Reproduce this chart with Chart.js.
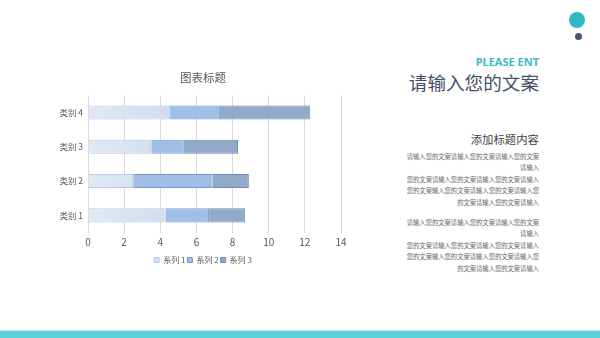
<!DOCTYPE html>
<html>
<head>
<meta charset="utf-8">
<script src="https://cdn.jsdelivr.net/npm/chart.js@4/dist/chart.umd.min.js"></script>
<style>
    body { margin: 0; width: 600px; height: 338px; overflow: hidden; background: #fff; font-family: "Noto Sans CJK SC", "Noto Sans", sans-serif; position: relative; }
    .abs { position: absolute; white-space: nowrap; }
    #chartBox { position: absolute; left: 40px; top: 60px; width: 320px; height: 214px; }
    .para { position: absolute; right: 61px; text-align: right; font-size: 6.3px; line-height: 11.4px; color: #666; }
</style>
</head>
<body>
<!-- decorative dots -->
<div class="abs" style="left:569px;top:12px;width:16px;height:16px;border-radius:50%;background:#2fb9c5;"></div>
<div class="abs" style="left:574.5px;top:32.5px;width:7px;height:7px;border-radius:50%;background:#4a5670;"></div>

<!-- headings -->
<div class="abs" style="right:61px;top:55px;line-height:14px;font-size:11px;font-weight:bold;color:#3bbcc7;font-family:'Noto Sans','Open Sans',sans-serif;">PLEASE ENT</div>
<div class="abs" style="right:61px;top:70px;line-height:24px;font-size:18.6px;color:#44506a;">请输入您的文案</div>
<div class="abs" style="right:61px;top:131px;line-height:16px;font-size:11.4px;color:#404040;">添加标题内容</div>

<div class="para" style="top:151px;">
    请输入您的文案请输入您的文案请输入您的文案<br>
    请输入<br>
    您的文案请输入您的文案请输入您的文案请输入<br>
    您的文案输入您的文案请输入您的文案请输入您<br>
    的文案请输入您的文案请输入
</div>
<div class="para" style="top:217px;">
    请输入您的文案请输入您的文案请输入您的文案<br>
    请输入<br>
    您的文案请输入您的文案请输入您的文案请输入<br>
    您的文案输入您的文案请输入您的文案请输入您<br>
    的文案请输入您的文案请输入
</div>

<!-- bottom band -->
<div class="abs" style="left:0;top:330px;width:600px;height:1px;background:#bfeff2;"></div>
<div class="abs" style="left:0;top:331px;width:600px;height:7px;background:#5bd3dc;"></div>

<div id="chartBox"><canvas id="barChart"></canvas></div>

<script>
/* Chart data */
var categories = ['类别 1', '类别 2', '类别 3', '类别 4'];
var seriesNames = ['系列 1', '系列 2', '系列 3'];
var series1 = [4.3, 2.5, 3.5, 4.5];
var series2 = [2.4, 4.4, 1.8, 2.8];
var series3 = [2, 2, 3, 5];
var xTicks = [0, 2, 4, 6, 8, 10, 12, 14];

/* Colors */
var text_color = '#595959';
var grid_color = '#d9d9d9';

var chart;

/* Title and legend are centred a bit right of the canvas centre */
var shiftBoxes = {
    id: 'shiftBoxes',
    afterLayout: function(c) {
        if (c.titleBlock) c.titleBlock.left = 25;
        if (c.legend) c.legend.left = 25;
    }
};

document.addEventListener("DOMContentLoaded", function() {
    initializeChart();
});

function initializeChart() {
    const ctx = document.getElementById('barChart');

    Chart.defaults.font.family = '"Noto Sans CJK SC", "Noto Sans", sans-serif';
    Chart.defaults.font.size = 10;
    Chart.defaults.color = text_color;

    // light gradient for the first series
    function lightFill(context) {
        var area = context.chart.chartArea;
        if (!area) return '#d8e2f2';
        var g = context.chart.ctx.createLinearGradient(area.left, 0, area.left + 90, 0);
        g.addColorStop(0, '#e2e9f5');
        g.addColorStop(1, '#cfdbee');
        return g;
    }

    chart = new Chart(ctx, {
        type: 'bar',
        data: {
            labels: categories,
            datasets: [{
                label: seriesNames[0],
                data: series1,
                backgroundColor: lightFill,
                borderColor: '#b7c9e3',
                borderWidth: 1
            }, {
                label: seriesNames[1],
                data: series2,
                backgroundColor: '#a0bee6',
                borderColor: '#739dd1',
                borderWidth: 1
            }, {
                label: seriesNames[2],
                data: series3,
                backgroundColor: '#93a9ca',
                borderColor: '#6d8bb4',
                borderWidth: 1
            }]
        },
        plugins: [shiftBoxes],
        options: {
            indexAxis: 'y',
            responsive: true,
            maintainAspectRatio: false,
            animation: false,
            layout: {
                padding: { left: 0, right: 19, top: 0, bottom: 0 }
            },
            datasets: {
                bar: {
                    categoryPercentage: 0.41,
                    barPercentage: 1
                }
            },
            plugins: {
                title: {
                    display: true,
                    text: '图表标题',
                    color: text_color,
                    font: { size: 11.5, weight: 'normal' },
                    padding: { top: 11, bottom: 10.5 }
                },
                legend: {
                    position: 'bottom',
                    labels: {
                        boxWidth: 5,
                        boxHeight: 5,
                        padding: 2,
                        color: text_color,
                        font: { size: 8 }
                    }
                },
                tooltip: { enabled: false }
            },
            scales: {
                x: {
                    stacked: true,
                    min: 0,
                    max: 14,
                    afterBuildTicks: function(axis) {
                        axis.ticks = xTicks.map(function(v) { return { value: v }; });
                    },
                    grid: {
                        color: grid_color,
                        drawTicks: false
                    },
                    border: { display: false },
                    ticks: { padding: 4, color: text_color },
                    afterFit: function(axis) { axis.height = 21.5; }
                },
                y: {
                    stacked: true,
                    reverse: true,
                    grid: { display: false, drawTicks: false },
                    border: { display: false },
                    ticks: { padding: 5, color: text_color, font: { size: 8.5 } },
                    afterFit: function(axis) { axis.width = 48; }
                }
            }
        }
    });
}
</script>
</body>
</html>
